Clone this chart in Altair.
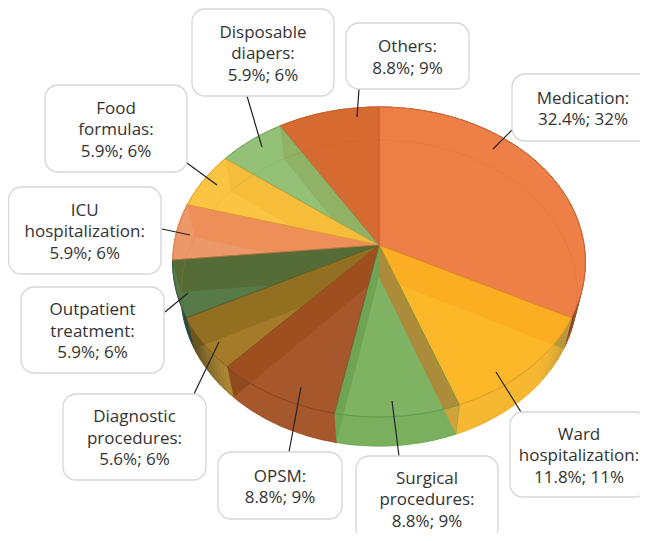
import math
import altair as alt

# ---- data
categories = [["Medication:"], ["Ward", "hospitalization:"], ["Surgical", "procedures:"], ["OPSM:"],
              ["Diagnostic", "procedures:"], ["Outpatient", "treatment:"], ["ICU", "hospitalization:"],
              ["Food", "formulas:"], ["Disposable", "diapers:"], ["Others:"]]
shares = [32.4, 11.8, 8.8, 8.8, 5.6, 5.9, 5.9, 5.9, 5.9, 8.8]
rounded = [32, 11, 9, 9, 6, 6, 6, 6, 6, 9]

# ---- styles
face_colors = ["#EE7F47", "#FDB82A", "#7FB263", "#A6572C", "#A57B2A",
               "#567B48", "#ED9868", "#FBC443", "#94C178", "#D66B31"]
edge_colors = ["#D46A38", "#D99A25", "#5F9A4A", "#8A4420", "#86641F",
               "#415F36", "#E07E45", "#E0A52F", "#7CA860", "#C4602D"]
rim_start = ["#A9552E", "#C9A038", "#7AAF5E", "#A6572C", "#B08B35",
             "#2C4A3E", "#ED9868", "#FBC443", "#94C178", "#D66B31"]
rim_end = ["#8A4A2A", "#F6B832", "#7AAF5E", "#A6572C", "#5F4F24",
           "#2C4A3E", "#ED9868", "#FBC443", "#94C178", "#D66B31"]
wall_colors = ["#FBAE22", "#AC8B3A", "#6FA454", "#9F4E20", "#936F22",
               "#556C36", "#EE8F5A", "#F6BD3B", "#8FB265"]
wall_rim_colors = ["#B9983C", "#CFA23A", "#6FA454", "#8F4A1E", "#6E5620",
                   "#2C4A3E", "#EE8F5A", "#F6BD3B", "#8FB265"]
wall_base = [1, 2, 2, 3, 4, 5, 6, 7, 8]
FONT = "Open Sans"
FONT_SIZE = 17

# ---- layout: perspective of the top and bottom discs
TOP = dict(cx=379, cy=245, bx=205, a=153.1, k=0.1097)
BOT = dict(cx=379, cy=277, bx=197, a=151.3, k=0.1046)
OFF = 8
W, H = 632, 525
TEXT_DY = 1.8

boxes = [(512, 74, 654, 141), (510, 412, 648, 497), (356, 456, 498, 541), (218, 452, 342, 519),
         (63, 394, 206, 480), (21, 287, 164, 373), (8.5, 187, 161, 274), (45, 85, 187, 172),
         (192, 9, 334, 96), (346, 23, 469, 89)]
leaders = [(512, 130, 493, 149), (521, 412, 496, 372), (399, 456, 392, 401), (289, 452, 301, 387),
           (194, 394, 219, 342), (165, 312, 188, 293), (162, 229, 190, 235), (187, 163, 217, 185),
           (247, 96, 262, 147), (359, 89, 357, 117)]


def project(d, deg):
    t = math.radians(deg)
    u, v = math.sin(t), -math.cos(t)
    w = 1 - d["k"] * v
    return [d["cx"] + d["bx"] * u / w, d["cy"] + d["a"] * v / w]


def arc(d, a0, a1, step=1.0):
    n = max(2, int(abs(a1 - a0) / step) + 1)
    return [project(d, a0 + (a1 - a0) * i / (n - 1)) for i in range(n)]


def rgb(h):
    return [int(h[i:i + 2], 16) for i in (1, 3, 5)]


def hexa(c):
    return "#" + "".join(f"{max(0, min(255, round(x))):02X}" for x in c)


def mix(a, b, f):
    return hexa([x + (y - x) * f for x, y in zip(rgb(a), rgb(b))])


def feature(ring, **props):
    return {"type": "Feature", "properties": props,
            "geometry": {"type": "Polygon", "coordinates": [ring + [ring[0]]]}}


def line_feature(pts, **props):
    return {"type": "Feature", "properties": props,
            "geometry": {"type": "LineString", "coordinates": pts}}


def clip(subject, clipper):
    """Clip a polygon against a convex polygon listed clockwise on screen."""
    out = subject
    for i in range(len(clipper)):
        a, b = clipper[i], clipper[(i + 1) % len(clipper)]
        side = lambda p: (b[0] - a[0]) * (p[1] - a[1]) - (b[1] - a[1]) * (p[0] - a[0])
        inp, out = out, []
        for j in range(len(inp)):
            p, q = inp[j], inp[(j + 1) % len(inp)]
            sp, sq = side(p), side(q)
            if sp >= 0:
                out.append(p)
            if (sp >= 0) != (sq >= 0):
                f = sp / (sp - sq)
                out.append([p[0] + (q[0] - p[0]) * f, p[1] + (q[1] - p[1]) * f])
        if not out:
            return []
    return out


total = sum(shares)
ends, c = [], 0.0
for s in shares:
    c += s
    ends.append(c / total * 360)
starts = [0.0] + ends[:-1]
apex = [TOP["cx"], TOP["cy"]]

rim, faces, walls, rim_walls, lines = [], [], [], [], []
for i, (a0, a1) in enumerate(zip(starts, ends)):
    n = max(2, int((a1 - a0) / 2)) if rim_start[i] != rim_end[i] else 1
    for j in range(n):
        b0, b1 = a0 + (a1 - a0) * j / n, a0 + (a1 - a0) * (j + 1) / n
        f = min(1, (j + 0.5) / n * (2.6 if i == 1 else 1))
        col = mix(rim_start[i], rim_end[i], f)
        rim.append(feature(arc(TOP, b0, b1) + arc(BOT, b1, b0), color=col))
    faces.append(feature([apex] + arc(TOP, a0, a1), color=face_colors[i], edge=edge_colors[i]))
    lines.append(line_feature(arc(BOT, a0, a1), edge=edge_colors[i]))

for i, e in enumerate(ends[:-1]):
    quad = [apex, project(TOP, e), project(BOT, e), [BOT["cx"], BOT["cy"]]]
    k = wall_base[i]
    sector = [apex] + arc(TOP, starts[k], ends[k], 3.0)
    # wedge: the same sector pushed outwards so that it also takes in the rim
    wedge = [apex] + [[apex[0] + (p[0] - apex[0]) * 1.6, apex[1] + (p[1] - apex[1]) * 1.6]
                      for p in (project(TOP, starts[k]), project(TOP, ends[k]))]
    part = clip(quad, wedge)
    if part:
        rim_walls.append(feature(part, color=wall_rim_colors[i]))
    part = clip(quad, sector)
    if part:
        walls.append(feature(part, color=wall_colors[i]))


def geo_layer(feats, **mark):
    return alt.Chart(alt.Data(values=feats)).mark_geoshape(**mark).project(
        type="identity", scale=1, translate=[-OFF, -OFF])


rim_layer = geo_layer(rim, strokeWidth=1.2).encode(
    fill=alt.Fill("properties.color:N", scale=None),
    stroke=alt.Stroke("properties.color:N", scale=None))
rim_wall_layer = geo_layer(rim_walls, strokeWidth=0).encode(
    fill=alt.Fill("properties.color:N", scale=None))
face_layer = geo_layer(faces, strokeWidth=0.7).encode(
    fill=alt.Fill("properties.color:N", scale=None),
    stroke=alt.Stroke("properties.edge:N", scale=None))
wall_layer = geo_layer(walls, strokeWidth=0).encode(
    fill=alt.Fill("properties.color:N", scale=None))
line_layer = geo_layer(lines, filled=False, strokeWidth=0.8, opacity=0.3).encode(
    stroke=alt.Stroke("properties.edge:N", scale=None))
edge_layer = geo_layer(faces, filled=False, strokeWidth=0.7, opacity=0.8).encode(
    stroke=alt.Stroke("properties.edge:N", scale=None))

box_rows = [dict(x=b[0] - OFF, y=b[1] - OFF, x2=b[2] - OFF, y2=b[3] - OFF) for b in boxes]
box_layer = alt.Chart(alt.Data(values=box_rows)).mark_rect(
    fill="white", stroke="#D6D6D6", strokeWidth=1.3, cornerRadius=13
).encode(x=alt.X("x:Q", scale=None, axis=None), x2="x2:Q",
         y=alt.Y("y:Q", scale=None, axis=None), y2="y2:Q")

lead_rows = [dict(x=l[0] - OFF, y=l[1] - OFF, x2=l[2] - OFF, y2=l[3] - OFF) for l in leaders]
lead_layer = alt.Chart(alt.Data(values=lead_rows)).mark_rule(color="#222222", strokeWidth=1.2).encode(
    x=alt.X("x:Q", scale=None, axis=None), x2="x2:Q",
    y=alt.Y("y:Q", scale=None, axis=None), y2="y2:Q")

LINE = 21.5
text_rows = []
for names, share, r, b in zip(categories, shares, rounded, boxes):
    rows = names + [f"{share}%; {r}%"]
    cy = (b[1] + b[3]) / 2 + TEXT_DY
    for k, row in enumerate(rows):
        text_rows.append(dict(x=(b[0] + b[2]) / 2 - OFF,
                              y=cy + (k - (len(rows) - 1) / 2) * LINE - OFF, t=row))
text_layer = alt.Chart(alt.Data(values=text_rows)).mark_text(
    font=FONT, fontSize=FONT_SIZE, color="#333333", align="center", baseline="middle"
).encode(x=alt.X("x:Q", scale=None, axis=None), y=alt.Y("y:Q", scale=None, axis=None), text="t:N")

chart = alt.layer(rim_layer, rim_wall_layer, face_layer, wall_layer, line_layer, edge_layer,
                  lead_layer, box_layer, text_layer).properties(
    width=W, height=H, padding=0, autosize=alt.AutoSizeParams(type="none")
).configure_view(stroke=None)

chart.save("out.html", embed_options={"renderer": "svg", "actions": False})
